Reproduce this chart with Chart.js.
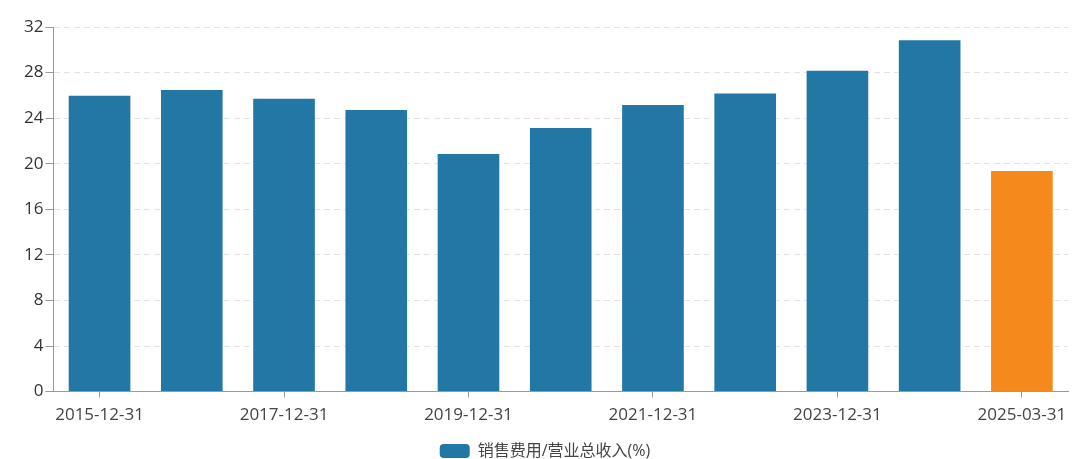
<!DOCTYPE html>
<html><head><meta charset="utf-8">
<script src="https://cdn.jsdelivr.net/npm/chart.js@4/dist/chart.umd.min.js"></script>
<style>html,body{margin:0;padding:0;background:#fff}#w{width:1080px;height:459px}</style>
</head><body><div id="w"><canvas id="c"></canvas></div>
<script>
const categories = ['2015-12-31','2016-12-31','2017-12-31','2018-12-31','2019-12-31','2020-12-31','2021-12-31','2022-12-31','2023-12-31','2024-12-31','2025-03-31'];
const values = [26.05, 26.55, 25.78, 24.8, 20.95, 23.22, 25.25, 26.25, 28.25, 30.92, 19.45];
const barColors = ['#2277a4','#2277a4','#2277a4','#2277a4','#2277a4','#2277a4','#2277a4','#2277a4','#2277a4','#2277a4','#f5891b'];
const yTicks = [0,4,8,12,16,20,24,28,32];
const seriesName = '销售费用/营业总收入(%)';
const font = "'Open Sans','Noto Sans CJK SC',sans-serif";
new Chart(document.getElementById('c'), {
  type: 'bar',
  data: { labels: categories, datasets: [{ label: seriesName, data: values, backgroundColor: barColors, borderColor: 'rgba(255,255,255,0.45)', borderWidth: 1, categoryPercentage: 0.69, barPercentage: 1 }] },
  options: {
    responsive: true, maintainAspectRatio: false, animation: false,
    layout: { padding: { left: 22, right: 12, top: 27, bottom: -10 } },
    plugins: {
      legend: { position: 'bottom', labels: { font: { family: font, size: 16 }, color: '#444', boxWidth: 30, boxHeight: 14, padding: 2,
        generateLabels: (ch) => [{ text: seriesName, fillStyle: '#2277a4', strokeStyle: '#2277a4', lineWidth: 0, borderRadius: 4, fontColor: '#444' }] } },
      tooltip: { enabled: false }
    },
    scales: {
      x: {
        afterFit: (s) => { s.height += 9; },
        grid: { offset: false, drawOnChartArea: false, tickLength: 6, color: (ctx) => ctx.index % 2 === 0 ? '#999' : 'rgba(0,0,0,0)' },
        border: { color: '#999', width: 1 },
        ticks: { autoSkip: false, maxRotation: 0, color: '#444', font: { family: font, size: 17 }, padding: 7,
          callback: function(v, i) { return i % 2 === 0 ? this.getLabelForValue(v) : ''; } }
      },
      y: {
        min: 0, max: 32,
        afterBuildTicks: (s) => { s.ticks = yTicks.map(v => ({ value: v })); },
        grid: { color: '#e3e3e3', tickLength: 8, tickColor: '#999', drawTicks: true },
        border: { color: '#999', width: 1, dash: [6, 4] },
        ticks: { color: '#333', font: { family: font, size: 17 }, padding: 2 }
      }
    }
  }
});
</script></body></html>
